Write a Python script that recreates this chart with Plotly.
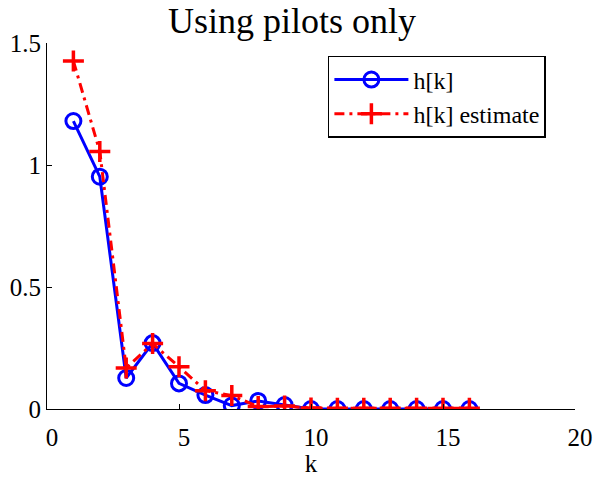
import plotly.graph_objects as go

k = list(range(1, 17))
h_true = [1.18, 0.952, 0.127, 0.27, 0.105, 0.057, 0.014, 0.033, 0.016, 0.0, 0.0, 0.0, 0.0, 0.0, 0.0, 0.0]
h_est = [1.426, 1.055, 0.168, 0.268, 0.173, 0.075, 0.055, 0.01, 0.012, 0.004, 0.003, 0.003, 0.003, 0.003, 0.003, 0.003]

xticks = [0, 5, 10, 15, 20]
yticks = [0, 0.5, 1, 1.5]
yticklabels = ["0", "0.5", "1", "1.5"]

font = "Liberation Serif"

fig = go.Figure()
fig.add_trace(go.Scatter(
    x=k, y=h_true, mode="lines+markers", name="h[k]",
    line=dict(color="#0000ff", width=3),
    marker=dict(symbol="circle-open", size=15, color="#0000ff", line=dict(width=3, color="#0000ff")),
))
fig.add_trace(go.Scatter(
    x=k, y=h_est, mode="lines+markers", name="h[k] estimate",
    line=dict(color="#ff0000", width=3, dash="10px,5px,3px,5px"),
    marker=dict(symbol="cross-thin-open", size=15, color="#ff0000", line=dict(width=3.5, color="#ff0000")),
))

fig.update_layout(
    width=599, height=477,
    margin=dict(l=47, r=24, t=43, b=68, autoexpand=False),
    paper_bgcolor="white", plot_bgcolor="white",
    font=dict(family=font, size=25, color="black"),
    title=dict(text="Using pilots only", x=0.464, xref="paper", xanchor="center",
               y=0.958, yanchor="middle",
               font=dict(family=font, size=36, color="black")),
    showlegend=True,
    legend=dict(x=0.532, y=0.9645, xanchor="left", yanchor="top",
                bgcolor="white", bordercolor="black", borderwidth=1.5,
                font=dict(family=font, size=24, color="black"),
                tracegroupgap=0, itemwidth=74),
    xaxis=dict(range=[0, 20], tickvals=xticks, ticktext=[str(t) for t in xticks],
               showgrid=False, zeroline=False, showline=True, linecolor="black", linewidth=1,
               ticks="inside", ticklen=5, tickcolor="black", automargin=False,
               ticklabelshift=5, ticklabelstandoff=6,
               tickfont=dict(family=font, size=25),
               title=dict(text="k", font=dict(family=font, size=25), standoff=4)),
    yaxis=dict(range=[0, 1.5], tickvals=yticks, ticktext=yticklabels,
               showgrid=False, zeroline=False, showline=True, linecolor="black", linewidth=1,
               ticks="inside", ticklen=5, tickcolor="black", automargin=False,
               tickfont=dict(family=font, size=25)),
)

fig.write_html("out.html")
